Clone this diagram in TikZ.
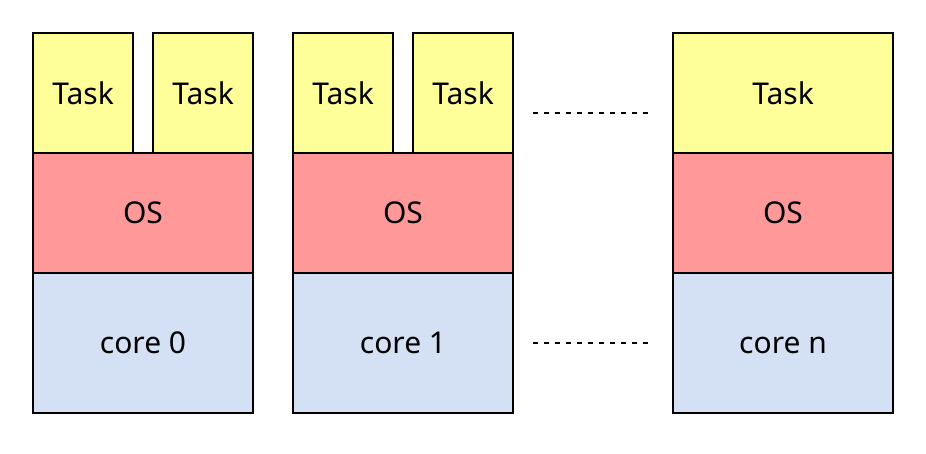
\documentclass[tikz,border=0pt]{standalone}
\usepackage{fontspec}
\setmainfont{Noto Sans}
\definecolor{taskc}{HTML}{FFFF99}
\definecolor{osc}{HTML}{FF9999}
\definecolor{corec}{HTML}{D4E1F5}
\begin{document}
\begin{tikzpicture}[x=1pt,y=-1pt,
  blk/.style={draw=black,line width=2pt,fill=#1,inner sep=0pt,
    font=\fontsize{30}{34}\selectfont},
  dots/.style={draw=black,line width=2pt,dash pattern=on 5pt off 6pt}]
\useasboundingbox (0,0) rectangle (926,454);
% column 1
\node[blk=taskc,minimum width=100pt,minimum height=120pt] (t1a) at (83,93) {Task};
\node[blk=taskc,minimum width=100pt,minimum height=120pt] (t1b) at (203,93) {Task};
\node[blk=osc,minimum width=220pt,minimum height=120pt] (os1) at (143,213) {OS};
\node[blk=corec,minimum width=220pt,minimum height=140pt] (c1) at (143,343) {core 0};
% column 2
\node[blk=taskc,minimum width=100pt,minimum height=120pt] (t2a) at (343,93) {Task};
\node[blk=taskc,minimum width=100pt,minimum height=120pt] (t2b) at (463,93) {Task};
\node[blk=osc,minimum width=220pt,minimum height=120pt] (os2) at (403,213) {OS};
\node[blk=corec,minimum width=220pt,minimum height=140pt] (c2) at (403,343) {core 1};
% column n
\node[blk=taskc,minimum width=220pt,minimum height=120pt] (t3) at (783,93) {Task};
\node[blk=osc,minimum width=220pt,minimum height=120pt] (os3) at (783,213) {OS};
\node[blk=corec,minimum width=220pt,minimum height=140pt] (c3) at (783,343) {\vphantom{0}core n};
% dotted gaps
\coordinate (d1s) at (533,113);
\coordinate (d1e) at (648,113);
\coordinate (d2s) at (533,343);
\coordinate (d2e) at (648,343);
\draw[dots] (d1s) -- (d1e);
\draw[dots] (d2s) -- (d2e);
\end{tikzpicture}
\end{document}
